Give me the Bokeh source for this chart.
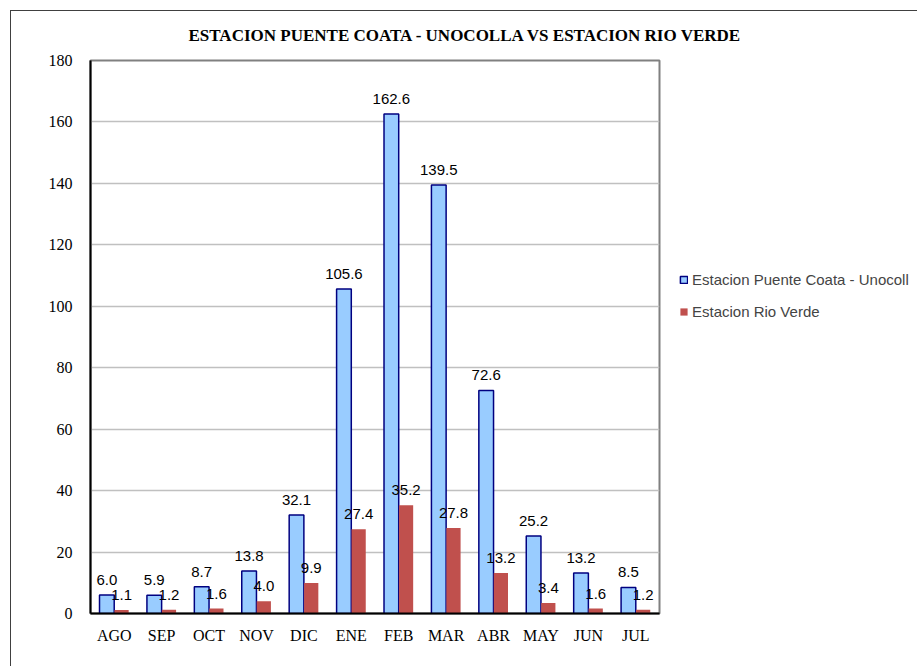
from bokeh.plotting import figure
from bokeh.models import ColumnDataSource, FactorRange, Legend, LegendItem, Range1d, FixedTicker
from bokeh.transform import dodge
from bokeh.core.properties import value
from bokeh.embed import file_html
from bokeh.resources import INLINE

months = ["AGO", "SEP", "OCT", "NOV", "DIC", "ENE", "FEB", "MAR", "ABR", "MAY", "JUN", "JUL"]
coata = [6.0, 5.9, 8.7, 13.8, 32.1, 105.6, 162.6, 139.5, 72.6, 25.2, 13.2, 8.5]
rio_verde = [1.1, 1.2, 1.6, 4.0, 9.9, 27.4, 35.2, 27.8, 13.2, 3.4, 1.6, 1.2]
y_ticks = [0, 20, 40, 60, 80, 100, 120, 140, 160, 180]
title_text = "ESTACION PUENTE COATA - UNOCOLLA VS ESTACION RIO VERDE"
series_names = ["Estacion Puente Coata - Unocoll", "Estacion Rio Verde"]

src = ColumnDataSource(dict(
    m=months, a=coata, b=rio_verde,
    la=[f"{v:.1f}" for v in coata], lb=[f"{v:.1f}" for v in rio_verde],
))

p = figure(x_range=FactorRange(*months), y_range=Range1d(0, 180),
           frame_width=569, frame_height=553, output_backend="svg", toolbar_location=None,
           min_border_left=79, min_border_right=0, min_border_top=49, min_border_bottom=54)
p.styles = {"border-left": "1px solid #404040", "border-top": "1px solid #404040",
            "margin-left": "10px", "margin-top": "10px"}

p.title.text = title_text
p.title.text_font = "Liberation Serif"
p.title.text_font_size = "17px"
p.title.text_font_style = "bold"
p.title.text_color = "black"
p.title.align = "left"
p.title.vertical_align = "top"
p.title.offset = 98
p.title.standoff = 27

ra = p.vbar(x=dodge("m", -0.155, range=p.x_range), top="a", width=0.31, source=src,
            fill_color="#99CCFF", line_color="#000080", line_width=1.5)
rb = p.vbar(x=dodge("m", 0.155, range=p.x_range), top="b", width=0.30, source=src,
            fill_color="#C0504D", line_color=None)

p.text(x=dodge("m", -0.155, range=p.x_range), y="a", text="la", source=src,
       text_align="center", text_baseline="bottom", y_offset=-10,
       text_font=value("Liberation Sans"), text_font_size="15px", text_color="black")
p.text(x=dodge("m", 0.155, range=p.x_range), y="b", text="lb", source=src,
       text_align="center", text_baseline="bottom", y_offset=-10,
       text_font=value("Liberation Sans"), text_font_size="15px", text_color="black")

p.yaxis.ticker = FixedTicker(ticks=y_ticks)
p.xgrid.grid_line_color = None
p.ygrid.grid_line_color = "#C0C0C0"
p.ygrid.grid_line_width = 1.5
p.outline_line_color = "#808080"
p.outline_line_width = 2

for ax in (p.xaxis, p.yaxis):
    ax.axis_line_color = "black"
    ax.axis_line_width = 2
    ax.major_tick_line_color = None
    ax.minor_tick_line_color = None
    ax.major_label_text_font = "Liberation Serif"
    ax.major_label_text_font_size = "16px"
    ax.major_label_text_color = "black"
p.yaxis.major_label_standoff = 12
p.xaxis.major_label_standoff = 7

legend = Legend(items=[LegendItem(label=series_names[0], renderers=[ra]),
                       LegendItem(label=series_names[1], renderers=[rb])],
                location=(20, 293), border_line_color=None, background_fill_alpha=0,
                label_text_font="Liberation Sans", label_text_font_size="15px",
                glyph_width=9, glyph_height=9, spacing=14, padding=0, margin=22,
                label_standoff=4, label_height=18)
p.add_layout(legend, "right")

open("out.html", "w").write(file_html(p, INLINE))
